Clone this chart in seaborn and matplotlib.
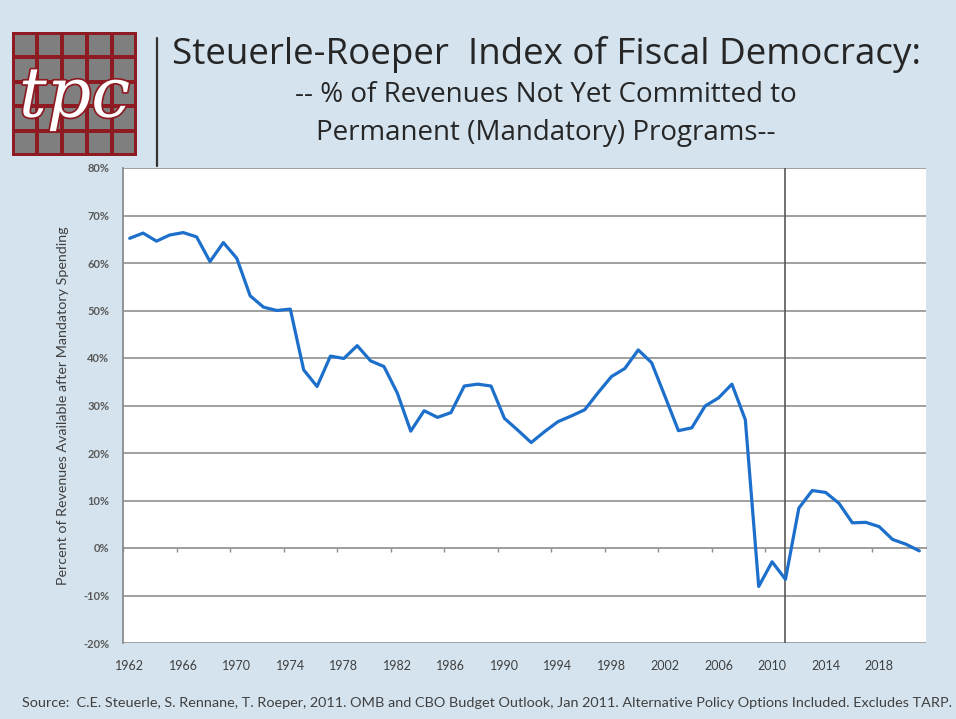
import numpy as np
import pandas as pd
import matplotlib
matplotlib.use("Agg")
import matplotlib.pyplot as plt
import matplotlib.patches as mpatches
import matplotlib.patheffects as pe
from matplotlib.ticker import FuncFormatter
import seaborn as sns

# ---- data ----
years = list(range(1962, 2022))
values = [65.2, 66.3, 64.6, 65.9, 66.4, 65.5, 60.3, 64.3, 61.0, 53.1,
          50.7, 50.0, 50.3, 37.5, 34.0, 40.4, 39.9, 42.6, 39.4, 38.2,
          32.6, 24.6, 28.9, 27.5, 28.5, 34.1, 34.5, 34.1, 27.3, 24.8,
          22.2, 24.5, 26.6, 27.8, 29.1, 32.7, 36.1, 37.8, 41.7, 39.0,
          31.9, 24.7, 25.3, 29.9, 31.6, 34.5, 27.0, -8.1, -2.9, -6.6,
          8.4, 12.1, 11.7, 9.4, 5.3, 5.4, 4.5, 1.8, 0.8, -0.6]
y_ticks = [-20, -10, 0, 10, 20, 30, 40, 50, 60, 70, 80]
x_label_years = [1962, 1966, 1970, 1974, 1978, 1982, 1986, 1990, 1994, 1998,
                 2002, 2006, 2010, 2014, 2018]
divider_year = 2011

title = "Steuerle-Roeper  Index of Fiscal Democracy:"
subtitle1 = "-- % of Revenues Not Yet Committed to"
subtitle2 = "Permanent (Mandatory) Programs--"
y_label = "Percent of Revenues Available after Mandatory Spending"
source = ("Source:  C.E. Steuerle, S. Rennane, T. Roeper, 2011. OMB and CBO Budget Outlook, "
          "Jan 2011. Alternative Policy Options Included. Excludes TARP.")

df = pd.DataFrame({"year": years, "value": values})

# ---- style ----
sns.set_theme(style="white")
plt.rcParams["font.family"] = ["Lato", "DejaVu Sans"]

BG = "#D4E3EE"
W, H = 956, 719
fig = plt.figure(figsize=(W / 100, H / 100), dpi=100, facecolor=BG)

ax = fig.add_axes([123 / W, 1 - 643 / H, (926 - 123) / W, (643 - 168) / H])
ax.set_facecolor("white")

sns.lineplot(data=df, x="year", y="value", ax=ax, color="#1C6FCB",
             linewidth=2.3, zorder=5)

ax.set_xlim(min(years) - 0.5, max(years) + 0.5)
ax.set_ylim(min(y_ticks), max(y_ticks))
ax.set_yticks(y_ticks)
ax.yaxis.set_major_formatter(FuncFormatter(lambda v, p: f"{v:.0f}%"))
ax.grid(axis="y", color="#A0A0A0", linewidth=1.4, zorder=1)
ax.grid(axis="x", visible=False)
for s in ["top", "right", "bottom"]:
    ax.spines[s].set_visible(False)
ax.spines["left"].set_color("#8C8C8C")
ax.spines["left"].set_linewidth(1.3)

ax.tick_params(axis="y", which="major", direction="out", length=4, width=1.1,
               color="#8C8C8C", pad=6, labelsize=8, labelcolor="#595959")
for t in ax.get_yticklabels():
    t.set_fontweight("bold")

ax.set_xticks(x_label_years)
ax.set_xticklabels([str(y) for y in x_label_years])
ax.tick_params(axis="x", length=0, pad=12, labelsize=9, labelcolor="#404040")

ax.set_xlabel("")
ax.set_ylabel(y_label, fontsize=10.3, color="#404040", labelpad=10)

# horizontal axis crossing at 0% with category-boundary tick marks
sec = ax.secondary_xaxis((0 - min(y_ticks)) / (max(y_ticks) - min(y_ticks)))
sec.set_xticks(np.arange(min(years) - 0.5, max(years), 4))
sec.set_xticklabels([])
sec.tick_params(axis="x", direction="out", length=3, width=1, color="#8C8C8C")
sec.spines["bottom"].set_color("#8C8C8C")
sec.spines["bottom"].set_linewidth(1.4)
for s in ["top", "left", "right"]:
    if s in sec.spines:
        sec.spines[s].set_visible(False)

# vertical divider at 2011
ax.axvline(divider_year, color="#595959", linewidth=1.2, zorder=4)

# ---- titles ----
fig.text(172 / W, 1 - 64 / H, title, fontsize=26.5, color="#262626",
         ha="left", va="baseline", family=["Open Sans", "DejaVu Sans"])
fig.text(546 / W, 1 - 102 / H, subtitle1, fontsize=20, color="#262626",
         ha="center", va="baseline", family=["Open Sans", "DejaVu Sans"])
fig.text(546 / W, 1 - 140 / H, subtitle2, fontsize=20, color="#262626",
         ha="center", va="baseline", family=["Open Sans", "DejaVu Sans"])

fig.text(22 / W, 1 - 703 / H, source, fontsize=10.4, color="#404040",
         ha="left", va="center")

# separator line
fig.add_artist(matplotlib.lines.Line2D([157 / W, 157 / W], [1 - 38 / H, 1 - 166 / H],
                                       color="#333333", linewidth=1.6))

# ---- logo ----
lax = fig.add_axes([12 / W, 1 - 156 / H, 125 / W, 124 / H])
lax.set_xlim(0, 5)
lax.set_ylim(0, 5)
lax.axis("off")
red = "#8E1B22"
lax.add_patch(mpatches.Rectangle((0, 0), 5, 5, facecolor=red, edgecolor="none"))
gap = 0.16
for i in range(5):
    for j in range(5):
        lax.add_patch(mpatches.Rectangle((i + gap / 2 + (0.04 if i == 0 else 0),
                                          j + gap / 2 + (0.04 if j == 0 else 0)),
                                         1 - gap - (0.04 if i in (0, 4) else 0),
                                         1 - gap - (0.04 if j in (0, 4) else 0),
                                         facecolor="#7F7F7F", edgecolor="none"))
lax.text(2.5, 2.35, "tpc", fontsize=50, color="white", style="italic",
         family="DejaVu Serif", ha="center", va="center",
         path_effects=[pe.withStroke(linewidth=2.5, foreground=red)])

fig.savefig("out.png", dpi=100, facecolor=BG)
